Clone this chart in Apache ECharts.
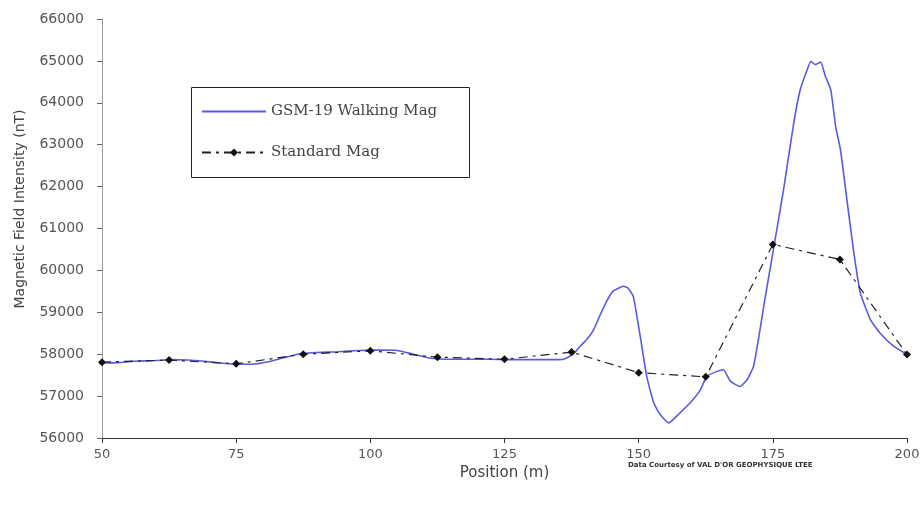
<!DOCTYPE html>
<html><head><meta charset="utf-8">
<script src="https://cdn.jsdelivr.net/npm/echarts@6/dist/echarts.min.js"></script>
<style>html,body{margin:0;padding:0;background:#fff}#c{width:924px;height:505px}</style>
</head><body><div id="c"></div>
<script>
// Standard Mag readings (position m, nT)
const standardPos = [50, 62.5, 75, 87.5, 100, 112.5, 125, 137.5, 150, 162.5, 175, 187.5, 200];
const standardVal = [57810, 57860, 57770, 58000, 58080, 57930, 57880, 58050, 57560, 57460, 60620, 60260, 57990];
// GSM-19 Walking Mag (position m, nT)
const walkPos = [50,53,56,60,63,66,69,72,75,78,81,84,87,90,94,98,102,105,108,111,114,118,122,126,130,134,136,137.8,139.1,140.4,141.6,142.8,144.1,145.3,147.2,148,149,150.3,151.5,152.8,154,155.6,157.7,159.6,161.5,162.7,164.6,165.8,167.1,168.9,170.2,171.4,172.4,173.3,175.2,177,178.9,180.1,181.4,182.1,182.9,183.9,184.8,185.8,186.7,187.6,188.8,190.1,191.3,193.2,195,197.5,200];
const walkVal = [57790,57800,57830,57850,57870,57860,57830,57790,57760,57760,57820,57920,58010,58040,58060,58090,58100,58090,58000,57910,57880,57880,57880,57870,57870,57870,57880,58000,58190,58360,58580,58930,59280,59510,59620,59580,59380,58420,57470,56840,56560,56360,56600,56840,57150,57470,57590,57630,57350,57230,57390,57710,58420,59140,60570,61930,63520,64310,64790,64990,64910,64970,64630,64310,63440,62880,61690,60420,59460,58820,58500,58190,57990];
const xTicks = [50, 75, 100, 125, 150, 175, 200];
const yTicks = [56000, 57000, 58000, 59000, 60000, 61000, 62000, 63000, 64000, 65000, 66000];

const chart = echarts.init(document.getElementById('c'), null, {renderer: 'canvas'});
const gray = '#555';
const blue = '#5a5ae0';
chart.setOption({
  backgroundColor: '#fff',
  animation: false,
  grid: {left: 102, right: 17, top: 19, bottom: 67},
  xAxis: {
    type: 'value', min: xTicks[0], max: xTicks[xTicks.length-1], interval: 25,
    name: 'Position (m)', nameLocation: 'middle', nameGap: 23,
    nameTextStyle: {color: '#444', fontSize: 15, fontFamily: 'DejaVu Sans'},
    axisLine: {show: true, onZero: false, lineStyle: {color: '#333', width: 1}},
    axisTick: {show: true, inside: false, length: 5, lineStyle: {color: '#333'}},
    axisLabel: {color: gray, fontSize: 13, fontFamily: 'DejaVu Sans', margin: 10},
    splitLine: {show: false}
  },
  yAxis: {
    type: 'value', min: yTicks[0], max: yTicks[yTicks.length-1], interval: 1000,
    axisLine: {show: true, lineStyle: {color: '#999', width: 1}},
    axisTick: {show: true, length: 5, lineStyle: {color: '#666'}},
    axisLabel: {color: gray, fontSize: 14, fontFamily: 'DejaVu Sans', margin: 18, formatter: v => String(v)},
    splitLine: {show: false}
  },
  legend: {
    show: true, orient: 'vertical', left: 196, top: 99, itemGap: 26,
    itemWidth: 64, itemHeight: 10,
    textStyle: {fontFamily: 'DejaVu Serif', fontSize: 15, color: '#444'},
    data: [
      {name: 'GSM-19 Walking Mag', icon: 'path://M0,4 L64,4 L64,6 L0,6 Z', itemStyle: {color: blue}},
      {name: 'Standard Mag'}
    ]
  },
  graphic: [
    {type: 'rect', left: 189, top: 85, shape: {width: 278, height: 90},
     style: {fill: 'none', stroke: '#222', lineWidth: 1}},
    {type: 'text', x: 20, y: 209, rotation: Math.PI / 2,
     style: {text: 'Magnetic Field Intensity (nT)', fontSize: 14, fill: '#444', fontFamily: 'DejaVu Sans', align: 'center', verticalAlign: 'middle'}},
    {type: 'text', left: 628, top: 462,
     style: {text: "Data Courtesy of VAL D'OR GEOPHYSIQUE LTEE", fontSize: 7, fontWeight: 'bold', fill: '#333', fontFamily: 'DejaVu Sans'}}
  ],
  series: [
    {
      name: 'GSM-19 Walking Mag', type: 'line', smooth: 0.15, symbol: 'none',
      data: walkPos.map((p, i) => [p, walkVal[i]]),
      lineStyle: {color: blue, width: 1.6},
      itemStyle: {color: blue}, z: 2
    },
    {
      name: 'Standard Mag', type: 'line', smooth: false, symbol: 'diamond', symbolSize: 8,
      data: standardPos.map((p, i) => [p, standardVal[i]]),
      lineStyle: {color: '#222', width: 1.2, type: [9, 5, 3, 5]},
      itemStyle: {color: '#111'}, z: 3
    }
  ]
});
</script></body></html>
